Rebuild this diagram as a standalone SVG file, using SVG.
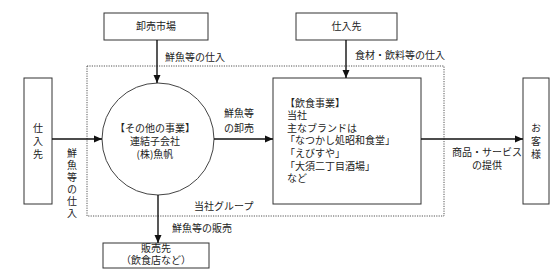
<svg xmlns="http://www.w3.org/2000/svg" width="551" height="270" viewBox="0 0 551 270">
<style>
text{font-family:"Noto Sans CJK JP","Noto Sans",sans-serif;font-size:10px;fill:#222}
.box{fill:#fff;stroke:#333;stroke-width:1}
.c{text-anchor:middle}
.v{writing-mode:vertical-rl}
.conn line{stroke:#111;stroke-width:1.4}
</style>
<defs>
<marker id="ah" viewBox="0 0 8 8" refX="8" refY="4" markerWidth="8" markerHeight="8" markerUnits="userSpaceOnUse" orient="auto">
<path d="M0,0.5 L8,4 L0,7.5 Z" fill="#111"/>
</marker>
</defs>
<rect width="551" height="270" fill="#fff"/>
<g id="group">
<rect x="87" y="66" width="357" height="150" fill="none" stroke="#555" stroke-width="1" stroke-dasharray="1.2 1.2"/>
<text x="194" y="210">当社グループ</text>
</g>
<g id="market">
<rect class="box" x="104" y="13" width="104" height="27"/>
<text class="c" x="156" y="30">卸売市場</text>
</g>
<g id="supplier-top">
<rect class="box" x="296" y="13" width="101" height="27"/>
<text class="c" x="346.5" y="30">仕入先</text>
</g>
<g id="supplier-left">
<rect class="box" x="24" y="78" width="28" height="126"/>
<text class="v" x="38" y="123" letter-spacing="3">仕入先</text>
</g>
<g id="customer">
<rect class="box" x="523" y="78" width="26" height="126"/>
<text class="v" x="536" y="123" letter-spacing="3">お客様</text>
</g>
<g id="other-business">
<circle cx="158" cy="139" r="56" fill="#fff" stroke="#444" stroke-width="1"/>
<text class="c"><tspan x="155" y="132">【その他の事業】</tspan><tspan x="155" y="145">連結子会社</tspan><tspan x="155" y="158">(株)魚帆</tspan></text>
</g>
<g id="restaurant">
<rect class="box" x="273" y="78" width="148" height="126"/>
<text><tspan x="285" y="107">【飲食事業】</tspan><tspan x="287" y="119">当社</tspan><tspan x="287" y="132">主なブランドは</tspan><tspan x="285" y="144">「なつかし処昭和食堂」</tspan><tspan x="285" y="157">「えびすや」</tspan><tspan x="285" y="170">「大須二丁目酒場」</tspan><tspan x="287" y="182">など</tspan></text>
</g>
<g id="buyer">
<rect class="box" x="103" y="243" width="106" height="25"/>
<text class="c"><tspan x="156" y="252">販売先</tspan><tspan x="156" y="264">（飲食店など）</tspan></text>
</g>
<g class="conn" id="connectors">
<line x1="157" y1="40" x2="157" y2="83" marker-end="url(#ah)"/>
<line x1="346" y1="40" x2="346" y2="78" marker-end="url(#ah)"/>
<line x1="52" y1="139" x2="102" y2="139" marker-end="url(#ah)"/>
<line x1="214" y1="139" x2="273" y2="139" marker-end="url(#ah)"/>
<line x1="421" y1="139" x2="523" y2="139" marker-end="url(#ah)"/>
<line x1="158" y1="195" x2="158" y2="243" marker-end="url(#ah)"/>
<text x="165" y="61">鮮魚等の仕入</text>
<text x="355" y="59">食材・飲料等の仕入</text>
<text><tspan x="224" y="117">鮮魚等</tspan><tspan x="224" y="132">の卸売</tspan></text>
<text class="c"><tspan x="487" y="156">商品・サービス</tspan><tspan x="487" y="169">の提供</tspan></text>
<text x="172" y="232">鮮魚等の販売</text>
<text class="v" x="72" y="148" letter-spacing="2">鮮魚等の仕入</text>
</g>
</svg>
